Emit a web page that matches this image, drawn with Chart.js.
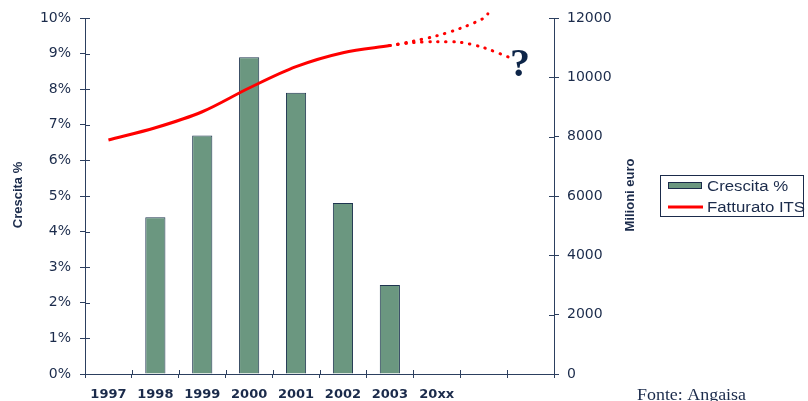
<!DOCTYPE html>
<html>
<head>
<meta charset="utf-8">
<script src="https://cdn.jsdelivr.net/npm/chart.js@4"></script>
<style>body{margin:0;background:#fff}</style>
</head>
<body>
<canvas id="chart" width="808" height="401"></canvas>
<script>
// categories on the x axis (last two slots are empty)
const categories = ['1997', '1998', '1999', '2000', '2001', '2002', '2003', '20xx', '', ''];
// Crescita % (bars, left axis)
const growthPct = [null, 4.4, 6.7, 8.9, 7.9, 4.8, 2.5, null, null, null];
// Fatturato ITS, milioni euro (right axis), 1997..2003
const revenue = [7890, 8300, 8840, 9640, 10360, 10830, 11070];
// dotted forecast branches, x given as category index
const highX = [6, 6.5, 7, 7.5, 8, 8.09];
const highY = [11070, 11220, 11400, 11650, 11990, 12140];
const lowX = [6, 6.5, 7, 7.5, 8, 8.6];
const lowY = [11070, 11170, 11200, 11180, 11000, 10640];

const NAVY = '#1b2b4b';
const AXIS = '#2c3f5f';
const GREEN = '#6b9780';
const RED = '#ff0000';

const pts = (xs, ys) => ys.map((y, i) => ({ x: xs[i], y }));

function stretchText(ctx, txt, x, y, sx) {
  ctx.save();
  ctx.translate(x, y);
  ctx.scale(sx, 1);
  ctx.fillText(txt, 0, 0);
  ctx.restore();
}

const extras = {
  id: 'extras',
  afterDraw(chart) {
    const { ctx } = chart;
    const { yL, yR, x, xl } = chart.scales;
    ctx.save();
    ctx.strokeStyle = AXIS;
    ctx.lineWidth = 1;
    ctx.beginPath();
    yL.ticks.forEach((t, i) => {
      const py = Math.round(yL.getPixelForTick(i)) + 0.5;
      ctx.moveTo(yL.right, py); ctx.lineTo(yL.right + 5, py);
    });
    yR.ticks.forEach((t, i) => {
      const py = Math.round(yR.getPixelForTick(i)) + 0.5;
      ctx.moveTo(yR.left - 5, py); ctx.lineTo(yR.left, py);
    });
    for (let i = 0; i <= categories.length; i++) {
      const px = Math.round(xl.getPixelForValue(i - 0.5)) + 0.5;
      ctx.moveTo(px, x.top); ctx.lineTo(px, x.top - 4);
    }
    ctx.stroke();

    // axis titles
    ctx.fillStyle = NAVY;
    ctx.font = 'bold 13px "Liberation Sans", Arial, sans-serif';
    ctx.textAlign = 'center';
    ctx.textBaseline = 'middle';
    [['Crescita %', 18, 195], ['Milioni euro', 630, 195]].forEach(([t, tx, ty]) => {
      ctx.save();
      ctx.translate(tx, ty);
      ctx.rotate(-Math.PI / 2);
      ctx.fillText(t, 0, 0);
      ctx.restore();
    });

    // legend
    ctx.strokeStyle = NAVY;
    ctx.strokeRect(660.5, 175.5, 143, 41);
    ctx.fillStyle = GREEN;
    ctx.fillRect(668, 182, 34, 7);
    ctx.strokeRect(668.5, 182.5, 33, 6);
    ctx.strokeStyle = RED;
    ctx.lineWidth = 3;
    ctx.beginPath(); ctx.moveTo(668, 207); ctx.lineTo(703, 207); ctx.stroke();
    ctx.fillStyle = NAVY;
    ctx.font = '14px "Liberation Sans", Arial, sans-serif';
    ctx.textAlign = 'left';
    stretchText(ctx, 'Crescita %', 707, 187, 1.2);
    stretchText(ctx, 'Fatturato ITS', 707, 208, 1.2);

    // question mark
    ctx.font = 'bold 40px "Liberation Serif", "Times New Roman", serif';
    ctx.textAlign = 'center';
    ctx.textBaseline = 'alphabetic';
    ctx.fillStyle = '#0d2548';
    ctx.fillText('?', 520, 76);

    // source
    ctx.font = '16px "Liberation Serif", "Times New Roman", serif';
    ctx.textAlign = 'left';
    ctx.fillStyle = NAVY;
    stretchText(ctx, 'Fonte: Angaisa', 637, 400, 1.12);
    ctx.restore();
  }
};

const dotted = { borderColor: RED, borderWidth: 3, pointRadius: 0, clip: false,
                 borderDash: [0.5, 7.5], borderCapStyle: 'round', tension: 0.3, order: 1 };

new Chart(document.getElementById('chart').getContext('2d'), {
  type: 'bar',
  data: {
    labels: categories,
    datasets: [
      {
        type: 'bar', label: 'Crescita %', data: growthPct,
        xAxisID: 'x', yAxisID: 'yL', grouped: false,
        backgroundColor: GREEN, borderColor: '#1f3550', borderWidth: 1,
        barPercentage: 0.43, categoryPercentage: 1, order: 2
      },
      {
        type: 'line', label: 'Fatturato ITS', data: pts(revenue.map((v, i) => i), revenue),
        xAxisID: 'xl', yAxisID: 'yR', clip: false,
        borderColor: RED, borderWidth: 3, pointRadius: 0,
        cubicInterpolationMode: 'monotone', order: 1
      },
      Object.assign({ type: 'line', label: 'alto', data: pts(highX, highY), xAxisID: 'xl', yAxisID: 'yR' }, dotted),
      Object.assign({ type: 'line', label: 'basso', data: pts(lowX, lowY), xAxisID: 'xl', yAxisID: 'yR' }, dotted)
    ]
  },
  options: {
    responsive: false,
    animation: false,
    devicePixelRatio: 1,
    layout: { padding: { top: 18, left: 0, right: 0, bottom: 0 } },
    plugins: { legend: { display: false }, tooltip: { enabled: false } },
    scales: {
      x: {
        type: 'category', offset: true,
        grid: { offset: true, drawOnChartArea: false, tickLength: 4, color: AXIS },
        border: { color: AXIS },
        ticks: { color: NAVY, padding: 9, maxRotation: 0, autoSkip: false,
                 font: { family: '"DejaVu Sans", sans-serif', size: 13, weight: 'bold' } },
        afterFit: s => { s.height = 27; }
      },
      xl: { type: 'linear', display: false, offset: false, min: -0.5, max: 9.5 },
      yL: {
        position: 'left', min: 0, max: 10,
        grid: { drawOnChartArea: false, tickLength: 5, color: AXIS },
        border: { color: AXIS },
        ticks: { stepSize: 1, padding: 9, color: NAVY, callback: v => v + '%',
                 font: { family: '"DejaVu Sans", sans-serif', size: 14 } },
        afterFit: s => { s.width = 85; }
      },
      yR: {
        position: 'right', min: 0, max: 12000,
        grid: { drawOnChartArea: false, tickLength: 5, color: AXIS },
        border: { color: AXIS },
        ticks: { stepSize: 2000, padding: 8, color: NAVY, callback: v => String(v),
                 font: { family: '"DejaVu Sans", sans-serif', size: 14 } },
        afterFit: s => { s.width = 254; }
      }
    }
  },
  plugins: [extras]
});
</script>
</body>
</html>
